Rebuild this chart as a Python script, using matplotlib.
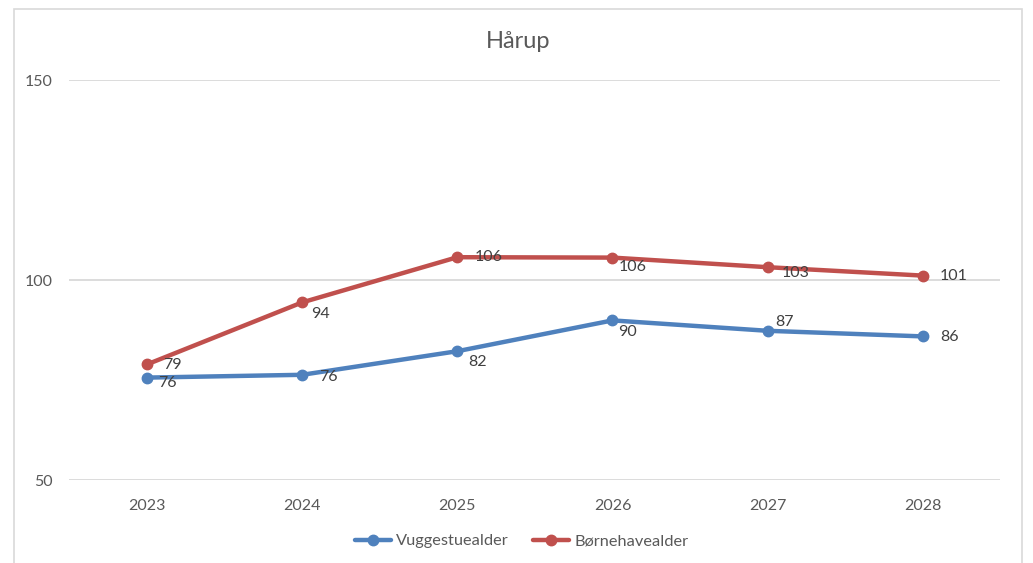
import numpy as np
import matplotlib
matplotlib.use("Agg")
import matplotlib.pyplot as plt
from matplotlib.patches import Rectangle

plt.rcParams['font.family'] = ['Lato', 'DejaVu Sans']

years = ['2023', '2024', '2025', '2026', '2027', '2028']
vuggestue = [75.6, 76.3, 82.2, 89.9, 87.3, 85.9]
boernehave = [78.9, 94.4, 105.7, 105.6, 103.2, 101.1]
y_ticks = [50, 100, 150]

# label offsets in pixels (dx, dy), Excel placed them by hand
off_vug = [(11, -5), (17, -2), (11, -11), (6, -12), (8, 9), (17, -1)]
off_bor = [(16, -1), (9, -12), (17, 0), (6, -9), (14, -6), (17, 0)]

blue = '#4F81BD'
red = '#C0504D'
grey = '#595959'

fig = plt.figure(figsize=(10.33, 5.63), dpi=100)
fig.patches.append(Rectangle((14 / 1033, -0.1), 1008 / 1033, 1 - 9 / 563 + 0.1,
                             transform=fig.transFigure, fill=False,
                             edgecolor='#D9D9D9', lw=1.2))
ax = fig.add_axes([69.4 / 1033, 83 / 563, 931 / 1033, 400 / 563])

x = np.arange(len(years))
ax.plot(x, vuggestue, color=blue, lw=3.2, marker='o', ms=7.5, label='Vuggestuealder',
        solid_capstyle='round')
ax.plot(x, boernehave, color=red, lw=3.2, marker='o', ms=7.5, label='Børnehavealder',
        solid_capstyle='round')

for xi, v, o in zip(x, vuggestue, off_vug):
    ax.annotate(f'{round(v)}', (xi, v), xytext=o, textcoords='offset pixels',
                ha='left', va='center', fontsize=11.5, color='#404040')
for xi, v, o in zip(x, boernehave, off_bor):
    ax.annotate(f'{round(v)}', (xi, v), xytext=o, textcoords='offset pixels',
                ha='left', va='center', fontsize=11.5, color='#404040')

ax.set_xlim(-0.5, len(years) - 0.5)
ax.set_ylim(50, 150)
ax.set_xticks(x)
ax.set_xticklabels(years)
ax.set_yticks(y_ticks)
ax.tick_params(length=0, labelsize=11.5, labelcolor=grey)
ax.tick_params(axis='y', pad=12)
ax.tick_params(axis='x', pad=14)
ax.grid(axis='y', color='#D9D9D9', lw=1.3)
ax.set_axisbelow(True)
for s in ax.spines.values():
    s.set_visible(False)

fig.text(0.5015, 1 - 42 / 563, 'Hårup', ha='center', va='center', fontsize=17, color=grey)

fig.legend(loc='center', bbox_to_anchor=(0.505, 1 - 541 / 563), ncol=2, frameon=False,
           fontsize=11.8, labelcolor=grey, handlelength=2.2, columnspacing=1.5,
           handletextpad=0.3)

fig.savefig('out.png', dpi=100)
